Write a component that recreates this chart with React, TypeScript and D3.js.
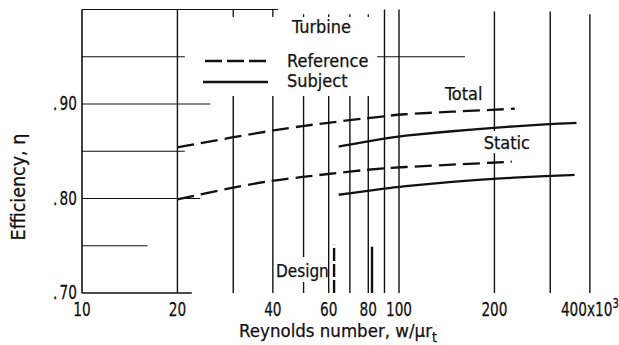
import React from "react";
import * as d3 from "d3";

// ---- data ----
const xTickValues = [10, 20, 40, 60, 80, 100, 200, 400];
const xTickLabels = ["10", "20", "40", "60", "80", "100", "200", "400x10"];
const yTickValues = [0.7, 0.8, 0.9];
const yTickLabels = ["70", "80", "90"];

const vGridValues = [20, 30, 40, 50, 60, 70, 80, 90, 100, 200, 300, 400];
const vGridTops = [1.0, 0.9085, 0.9085, 0.9085, 0.9085, 0.9085, 0.9085, 1.0, 1.0, 0.998, 0.998, 0.995];
const topTickValues = [30, 40, 50, 60, 70, 80];
const topTickStarts = [1.0, 1.0, 0.995, 0.995, 0.995, 0.995];

const hGridValues = [0.75, 0.8, 0.85, 0.9, 0.95, 0.95];
const hGridFrom = [10, 10, 10, 10, 10, 85.3];
const hGridTo = [16.1, 23.6, 21.1, 25.4, 21.1, 161.5];

const refTotalX = [20, 30, 40, 50, 60, 70, 80, 90, 100, 150, 200, 232];
const refTotalY = [0.854, 0.865, 0.872, 0.877, 0.88, 0.883, 0.885, 0.887, 0.889, 0.892, 0.894, 0.895];
const refStaticX = [20, 30, 40, 50, 60, 70, 80, 90, 100, 150, 200, 227];
const refStaticY = [0.799, 0.812, 0.819, 0.823, 0.826, 0.8285, 0.8305, 0.832, 0.833, 0.836, 0.838, 0.839];
const subjTotalX = [64.5, 70, 80, 90, 100, 150, 200, 300, 363];
const subjTotalY = [0.855, 0.857, 0.8605, 0.8635, 0.866, 0.8715, 0.875, 0.879, 0.88];
const subjStaticX = [64.5, 70, 80, 90, 100, 150, 200, 300, 358];
const subjStaticY = [0.804, 0.8055, 0.808, 0.8105, 0.8125, 0.818, 0.821, 0.824, 0.825];

const designRef = 62.4;
const designSubj = 82.2;

const W = 619;
const H = 345;
const INK = "#111";
const FONT = "'DejaVu Sans Condensed', 'DejaVu Sans', sans-serif";

function Narrow({ x, y, anchor, size, children }: { x: number; y: number; anchor: string; size: number; children: any }) {
  return (
    <text
      transform={`translate(${x},${y}) scale(0.8,1)`}
      textAnchor={anchor as any}
      fontFamily={FONT}
      fontSize={size}
      fill={INK}
      stroke={INK}
      strokeWidth={0.25}
    >
      {children}
    </text>
  );
}

export default function App() {
  const x = d3.scaleLog().domain([10, 400]).range([82, 82 + 317 * Math.log10(40)]);
  const y = d3.scaleLinear().domain([0.7, 1.0]).range([293, 9.5]);

  const line = d3
    .line<[number, number]>()
    .x((d) => x(d[0]))
    .y((d) => y(d[1]))
    .curve(d3.curveBasis);

  const zip = (a: number[], b: number[]) => a.map((v, i) => [v, b[i]] as [number, number]);

  const series = [
    { d: zip(refTotalX, refTotalY), dash: "17 7" },
    { d: zip(refStaticX, refStaticY), dash: "17 7" },
    { d: zip(subjTotalX, subjTotalY), dash: null },
    { d: zip(subjStaticX, subjStaticY), dash: null },
  ];

  const gaps: Record<number, [number, number]> = {
    50: [0.7116, 0.738],
    200: [0.848, 0.8714],
  };

  const vSegs: { v: number; y1: number; y2: number }[] = [];
  vGridValues.forEach((v, i) => {
    const top = vGridTops[i];
    const g = gaps[v];
    if (g) {
      vSegs.push({ v, y1: 0.7, y2: g[0] });
      vSegs.push({ v, y1: g[1], y2: top });
    } else {
      vSegs.push({ v, y1: 0.7, y2: top });
    }
  });

  const textProps = { fontFamily: FONT, fill: INK, stroke: INK, strokeWidth: 0.25 };

  return (
    <svg
      width={W}
      height={H}
      viewBox={`0 0 ${W} ${H}`}
      style={{ position: "absolute", left: 0, top: 0, background: "#fff" }}
    >
      <rect x={0} y={0} width={W} height={H} fill="#fff" />
      {/* frame pieces */}
      <line x1={x(10)} x2={x(10)} y1={y(0.7)} y2={y(1.0)} stroke={INK} strokeWidth={1.6} />
      <line x1={x(10)} x2={x(41.5)} y1={y(1.0)} y2={y(1.0)} stroke={INK} strokeWidth={1.2} />
      <line x1={x(10)} x2={x(22.2)} y1={y(0.7)} y2={y(0.7)} stroke={INK} strokeWidth={1.3} />

      {/* horizontal grid */}
      {hGridValues.map((v, i) => (
        <line
          key={"h" + i}
          x1={x(hGridFrom[i])}
          x2={x(hGridTo[i])}
          y1={y(v)}
          y2={y(v)}
          stroke={INK}
          strokeWidth={1}
        />
      ))}

      {/* vertical grid */}
      {vSegs.map((s, i) => (
        <line
          key={"v" + i}
          x1={x(s.v)}
          x2={x(s.v)}
          y1={y(s.y1)}
          y2={y(s.y2)}
          stroke={INK}
          strokeWidth={1.4}
        />
      ))}
      {topTickValues.map((v, i) => (
        <line
          key={"t" + i}
          x1={x(v)}
          x2={x(v)}
          y1={y(topTickStarts[i])}
          y2={y(0.992)}
          stroke={INK}
          strokeWidth={1.3}
        />
      ))}

      {/* design markers */}
      <line
        x1={x(designRef)}
        x2={x(designRef)}
        y1={y(0.7)}
        y2={y(0.751)}
        stroke={INK}
        strokeWidth={2.4}
        strokeDasharray="13 3"
      />
      <line
        x1={x(designSubj)}
        x2={x(designSubj)}
        y1={y(0.7)}
        y2={y(0.749)}
        stroke={INK}
        strokeWidth={2.4}
      />
      <text x={276} y={277} fontSize={17} {...textProps}>
        Design
      </text>

      {/* curves */}
      {series.map((s, i) => (
        <path
          key={"s" + i}
          d={line(s.d) || ""}
          fill="none"
          stroke={INK}
          strokeWidth={2.3}
          strokeDasharray={s.dash || undefined}
        />
      ))}

      {/* curve labels */}
      <text x={x(139.6)} y={y(0.904)} fontSize={18} {...textProps}>
        Total
      </text>
      <text x={x(185)} y={y(0.852)} fontSize={18} {...textProps}>
        Static
      </text>

      {/* legend */}
      <text x={292} y={33} fontSize={18} {...textProps}>
        Turbine
      </text>
      <line x1={205} x2={267} y1={61} y2={61} stroke={INK} strokeWidth={2.3} strokeDasharray="17 5" />
      <text x={287} y={67} fontSize={18} {...textProps}>
        Reference
      </text>
      <line x1={203} x2={268} y1={82} y2={82} stroke={INK} strokeWidth={2.3} />
      <text x={287} y={87} fontSize={18} {...textProps}>
        Subject
      </text>

      {/* x tick labels */}
      {xTickValues.map((v, i) => (
        <Narrow key={"xl" + i} x={x(v)} y={316} anchor="middle" size={19}>
          {xTickLabels[i]}
          {i === xTickValues.length - 1 ? (
            <tspan dy={-8} fontSize={14}>
              3
            </tspan>
          ) : null}
        </Narrow>
      ))}

      {/* y tick labels */}
      {yTickValues.map((v, i) => (
        <Narrow key={"yl" + i} x={77} y={y(v) + 6} anchor="end" size={19}>
          .<tspan dx={3}>{yTickLabels[i]}</tspan>
        </Narrow>
      ))}

      {/* axis titles */}
      <text x={338} y={337} textAnchor="middle" fontSize={18.5} {...textProps}>
        Reynolds number, w/μr
        <tspan dy={5} fontSize={14}>
          t
        </tspan>
      </text>
      <text
        transform={`translate(25, ${187}) rotate(-90)`}
        textAnchor="middle"
        fontSize={19.5}
        {...textProps}
      >
        Efficiency, η
      </text>
    </svg>
  );
}
